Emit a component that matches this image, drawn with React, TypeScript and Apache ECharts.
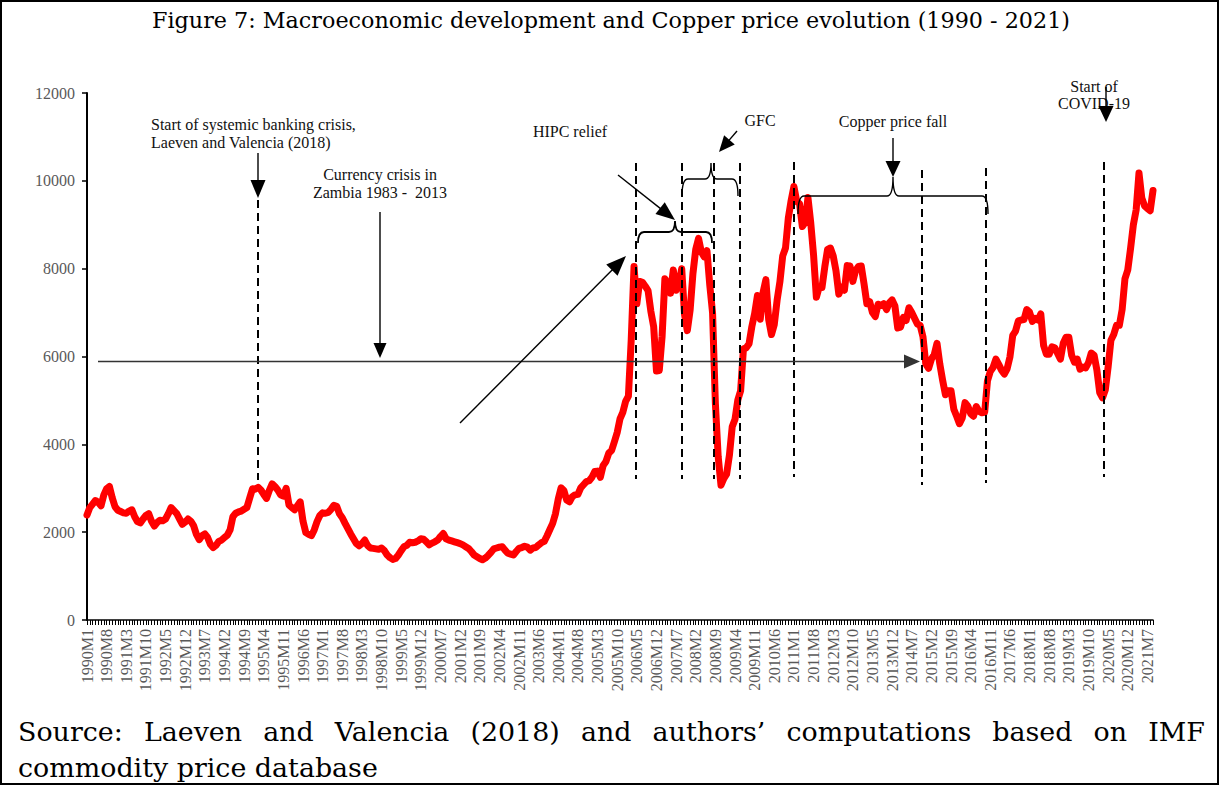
import React, { useEffect, useRef } from "react";
import * as echarts from "echarts";

// ---- Data (monthly copper price, USD per metric ton) ----
const START_YEAR = 1990;
const p1990 = [2390, 2560, 2640, 2720, 2680, 2600, 2850, 2990, 3040, 2780, 2580, 2500];
const p1991 = [2470, 2440, 2430, 2480, 2510, 2350, 2240, 2210, 2300, 2380, 2420, 2250];
const p1992 = [2140, 2220, 2270, 2260, 2300, 2420, 2560, 2490, 2420, 2300, 2180, 2230];
const p1993 = [2300, 2250, 2150, 1950, 1830, 1920, 1960, 1880, 1720, 1650, 1700, 1790];
const p1994 = [1820, 1880, 1930, 2050, 2350, 2430, 2460, 2480, 2520, 2560, 2780, 2990];
const p1995 = [2980, 3020, 2960, 2860, 2770, 2950, 3100, 3040, 2960, 2850, 2820, 3000];
const p1996 = [2620, 2560, 2510, 2600, 2690, 2250, 1990, 1950, 1920, 2050, 2240, 2380];
const p1997 = [2440, 2430, 2450, 2520, 2610, 2590, 2420, 2330, 2200, 2080, 1960, 1850];
const p1998 = [1740, 1690, 1740, 1820, 1700, 1640, 1630, 1620, 1610, 1640, 1580, 1480];
const p1999 = [1420, 1380, 1400, 1480, 1580, 1670, 1700, 1770, 1760, 1770, 1800, 1850];
const p2000 = [1840, 1780, 1710, 1750, 1780, 1820, 1900, 1970, 1850, 1820, 1800, 1780];
const p2001 = [1760, 1740, 1710, 1670, 1630, 1560, 1480, 1440, 1400, 1370, 1410, 1470];
const p2002 = [1540, 1620, 1640, 1660, 1670, 1590, 1520, 1500, 1480, 1560, 1630, 1650];
const p2003 = [1680, 1660, 1590, 1640, 1650, 1710, 1760, 1790, 1920, 2060, 2200, 2420];
const p2004 = [2760, 3010, 2950, 2730, 2690, 2810, 2850, 2860, 3010, 3080, 3150, 3170];
const p2005 = [3250, 3380, 3390, 3250, 3520, 3610, 3800, 3860, 4060, 4270, 4580, 4730];
const p2006 = [4980, 5100, 6380, 8050, 7200, 7710, 7690, 7600, 7500, 7030, 6680, 5670];
const p2007 = [5680, 6450, 7770, 7660, 7440, 7970, 7510, 7650, 8000, 6960, 6590, 7060];
const p2008 = [7890, 8440, 8690, 8380, 8270, 8410, 7630, 6990, 4930, 3720, 3070, 3220];
const p2009 = [3320, 3750, 4400, 4570, 5010, 5220, 6170, 6200, 6290, 6680, 6980, 7390];
const p2010 = [6850, 7460, 7750, 6840, 6500, 6730, 7280, 7700, 8290, 8470, 9150, 9550];
const p2011 = [9870, 9530, 9480, 8960, 9050, 9620, 9040, 8310, 7350, 7580, 7570, 8040];
const p2012 = [8440, 8470, 8290, 7950, 7420, 7580, 7510, 8070, 8060, 7710, 7960, 8050];
const p2013 = [8060, 7650, 7200, 7250, 7000, 6910, 7190, 7160, 7200, 7070, 7220, 7290];
const p2014 = [7150, 6650, 6670, 6890, 6820, 7110, 7000, 6870, 6740, 6710, 6450, 5830];
const p2015 = [5730, 5940, 6040, 6300, 5830, 5460, 5130, 5220, 5220, 4800, 4640, 4470];
const p2016 = [4600, 4950, 4870, 4700, 4640, 4860, 4750, 4720, 4730, 5450, 5660, 5750];
const p2017 = [5940, 5820, 5690, 5600, 5720, 5990, 6480, 6580, 6810, 6830, 6840, 7070];
const p2018 = [7010, 6800, 6870, 6830, 6970, 6250, 6050, 6050, 6220, 6200, 6070, 5940];
const p2019 = [6300, 6440, 6440, 6030, 5870, 5940, 5710, 5760, 5740, 5860, 6080, 6030];
const p2020 = [5690, 5180, 5060, 5240, 5760, 6370, 6500, 6710, 6710, 7070, 7770, 7970];
const p2021 = [8460, 9000, 9340, 10180, 9610, 9430, 9370, 9320, 9780];

const PRICE: number[] = [
  ...p1990, ...p1991, ...p1992, ...p1993, ...p1994, ...p1995, ...p1996, ...p1997,
  ...p1998, ...p1999, ...p2000, ...p2001, ...p2002, ...p2003, ...p2004, ...p2005,
  ...p2006, ...p2007, ...p2008, ...p2009, ...p2010, ...p2011, ...p2012, ...p2013,
  ...p2014, ...p2015, ...p2016, ...p2017, ...p2018, ...p2019, ...p2020, ...p2021,
];

const CATEGORIES: string[] = PRICE.map((_, i) => `${START_YEAR + Math.floor(i / 12)}M${(i % 12) + 1}`);

const Y_MIN = 0;
const Y_MAX = 12000;
const Y_INTERVAL = 2000;
const X_LABEL_EVERY = 7;

const TITLE = "Figure 7: Macroeconomic development and Copper price evolution (1990 - 2021)";
const SOURCE_LINE1 = "Source: Laeven and Valencia (2018) and authors\u2019 computations based on IMF";
const SOURCE_LINE2 = "commodity price database";

const SERIF = '"Liberation Serif", "Times New Roman", serif';
const TITLE_FONT = '"DejaVu Serif", serif';

function measure(text: string, font: string): number {
  const c = document.createElement("canvas").getContext("2d");
  if (!c) return text.length * 10;
  c.font = font;
  return c.measureText(text).width;
}

function braceD(x1: number, x2: number, y: number, yEnd: number, xc: number, yTip: number) {
  const r = 6;
  return `M${x1} ${yEnd} Q${x1} ${y} ${x1 + r} ${y} L${xc - r} ${y} Q${xc} ${y} ${xc} ${yTip} Q${xc} ${y} ${xc + r} ${y} L${x2 - r} ${y} Q${x2} ${y} ${x2} ${yEnd}`;
}

function arrow(x1: number, y1: number, x2: number, y2: number, headLen = 16, headW = 14, color = "#000", lw = 1.4) {
  const dx = x2 - x1, dy = y2 - y1;
  const L = Math.hypot(dx, dy);
  const ux = dx / L, uy = dy / L;
  const bx = x2 - ux * headLen, by = y2 - uy * headLen;
  const px = -uy, py = ux;
  return [
    { type: "line", z: 100, shape: { x1, y1, x2: bx + ux, y2: by + uy }, style: { stroke: color, lineWidth: lw } },
    {
      type: "polygon", z: 100,
      shape: { points: [[x2, y2], [bx + (px * headW) / 2, by + (py * headW) / 2], [bx - (px * headW) / 2, by - (py * headW) / 2]] },
      style: { fill: color },
    },
  ];
}

function dashed(x: number, y1: number, y2: number) {
  return { type: "line", z: 100, shape: { x1: x, y1, x2: x, y2 }, style: { stroke: "#000", lineWidth: 2, lineDash: [8, 5] } };
}

function label(text: string, x: number, y: number, align: string = "center") {
  return {
    type: "text", z: 100, x, y,
    style: { text, fill: "#111", font: `16px ${SERIF}`, textAlign: align, textVerticalAlign: "middle" },
  };
}

export default function App() {
  const ref = useRef<HTMLDivElement>(null);

  useEffect(() => {
    if (!ref.current) return;
    echarts.graphic.registerShape("braceHIPC", echarts.graphic.extendPath(braceD(638, 712, 232, 243, 675, 221), {}));
    echarts.graphic.registerShape("braceGFC", echarts.graphic.extendPath(braceD(682, 738, 179, 196, 711, 163), {}));
    echarts.graphic.registerShape("braceCopper", echarts.graphic.extendPath(braceD(798, 988, 196, 214, 893, 177), {}));

    const chart = echarts.init(ref.current, null, { renderer: "svg" });

    const titleSize = (100 * 918) / measure(TITLE, `100px ${TITLE_FONT}`);
    const srcSize = (100 * 360) / measure(SOURCE_LINE2, `100px ${TITLE_FONT}`);
    const srcFont = `${srcSize.toFixed(2)}px ${TITLE_FONT}`;
    const words = SOURCE_LINE1.split(" ");
    const widths = words.map((w) => measure(w, srcFont));
    const total = widths.reduce((a, b) => a + b, 0);
    const left = 18, right = 1205;
    const gap = (right - left - total) / (words.length - 1);
    const srcWords: any[] = [];
    let cx = left;
    words.forEach((w, i) => {
      srcWords.push({ type: "text", x: cx, y: 731, style: { text: w, fill: "#000", font: srcFont, textAlign: "left", textVerticalAlign: "middle" } });
      cx += widths[i] + gap;
    });

    const graphics: any[] = [
      { type: "rect", z: 100, shape: { x: 1, y: 1, width: 1217, height: 783 }, style: { fill: "none", stroke: "#000", lineWidth: 2 } },
      { type: "text", x: 611, y: 20, style: { text: TITLE, fill: "#000", font: `${titleSize.toFixed(2)}px ${TITLE_FONT}`, textAlign: "center", textVerticalAlign: "middle" } },
      ...srcWords,
      { type: "text", x: 18, y: 767, style: { text: SOURCE_LINE2, fill: "#000", font: srcFont, textAlign: "left", textVerticalAlign: "middle" } },

      dashed(258, 200, 480),
      dashed(636, 163, 479),
      dashed(682, 163, 479),
      dashed(714, 163, 479),
      dashed(740, 163, 479),
      dashed(794, 162, 477),
      dashed(922, 170, 485),
      dashed(986, 168, 483),
      dashed(1104, 162, 477),

      label("Start of systemic banking crisis,", 151, 124, "left"),
      label("Laeven and Valencia (2018)", 151, 142, "left"),
      ...arrow(258, 153, 258, 198, 18, 15),

      label("Currency crisis in", 380, 174),
      label("Zambia 1983 -  2013", 380, 192),
      ...arrow(380, 212, 380, 358, 15, 13),
      ...arrow(98, 361.5, 920, 361.5, 16, 14, "#333", 1.5),
      ...arrow(460, 423, 626, 256, 20, 16),

      label("HIPC relief", 570, 131),
      ...arrow(618, 175, 675, 220, 19, 15),
      { type: "braceHIPC", z: 100, style: { fill: "none", stroke: "#000", lineWidth: 1.8 } },

      label("GFC", 760, 120),
      ...arrow(737, 131, 719, 152, 16, 14),
      { type: "braceGFC", z: 100, style: { fill: "none", stroke: "#000", lineWidth: 1.4 } },

      label("Copper price fall", 893, 121),
      ...arrow(893, 138, 893, 177, 16, 15),
      { type: "braceCopper", z: 100, style: { fill: "none", stroke: "#000", lineWidth: 1.4 } },

      label("Start of", 1094, 86),
      label("COVID-19", 1094, 103),
      ...arrow(1106, 87, 1106, 122, 16, 15),
    ];

    chart.setOption({
      animation: false,
      backgroundColor: "#fff",
      grid: { left: 87, right: 67, top: 93, bottom: 166, containLabel: false },
      xAxis: {
        type: "category",
        data: CATEGORIES,
        boundaryGap: false,
        axisLine: { lineStyle: { color: "#000", width: 1.5 } },
        axisTick: { interval: 0, length: 5, lineStyle: { color: "#000", width: 1 } },
        axisLabel: {
          interval: X_LABEL_EVERY - 1,
          rotate: 90,
          margin: 9,
          color: "#595959",
          fontFamily: SERIF,
          fontSize: 16,
        },
        splitLine: { show: false },
      },
      yAxis: {
        type: "value",
        min: Y_MIN,
        max: Y_MAX,
        interval: Y_INTERVAL,
        axisLine: { show: true, lineStyle: { color: "#000", width: 2 } },
        axisTick: { show: true, length: 5, lineStyle: { color: "#000", width: 1.5 } },
        axisLabel: {
          margin: 12,
          color: "#595959",
          fontFamily: SERIF,
          fontSize: 16,
          formatter: (v: number) => String(v),
        },
        splitLine: { show: false },
      },
      series: [
        {
          type: "line",
          data: PRICE,
          symbol: "none",
          showSymbol: false,
          lineStyle: { color: "#ff0000", width: 7, cap: "round", join: "round" },
          z: 2,
        },
      ],
      graphic: graphics,
    });

    return () => chart.dispose();
  }, []);

  return (
    <div
      ref={ref}
      style={{ position: "absolute", left: 0, top: 0, width: 1220, height: 786, background: "#fff" }}
    />
  );
}
